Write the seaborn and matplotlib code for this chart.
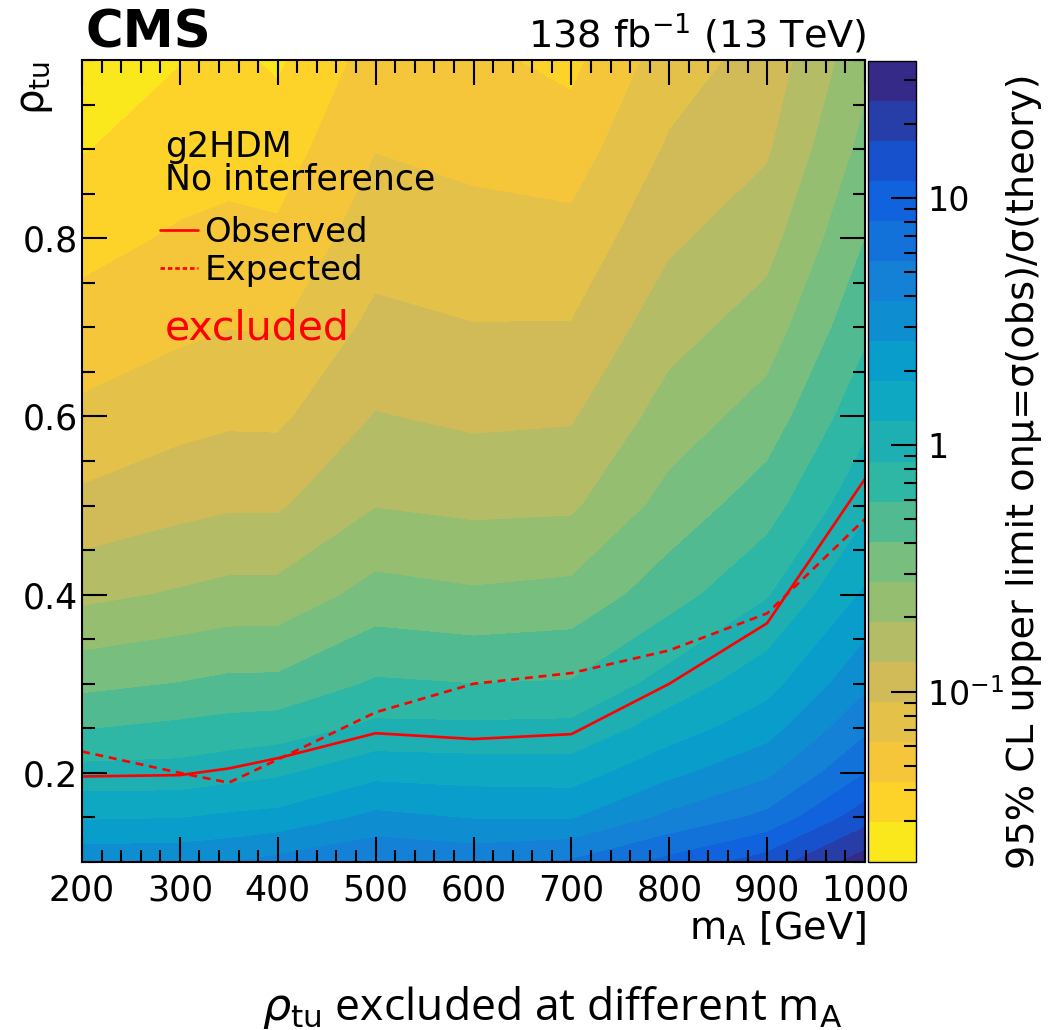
import numpy as np
import pandas as pd
import matplotlib
matplotlib.use("Agg")
import matplotlib.pyplot as plt
from matplotlib.ticker import FixedLocator, MultipleLocator
import seaborn as sns

# ---- scan grid: pseudoscalar mass [GeV] and coupling rho_tu ----
mass_points = [200, 300, 350, 400, 500, 600, 700, 800, 900, 1000]
rho_points = [0.10, 0.15, 0.20, 0.25, 0.30, 0.40, 0.50, 0.60, 0.70, 0.80, 0.90, 1.00]

# observed 95% CL upper limit on mu, one list per mass, ordered along rho_points
mu_m200 = [3.4, 1.73, 0.97, 0.577, 0.366, 0.174, 0.0996, 0.0675, 0.050, 0.038, 0.0290, 0.0233]
mu_m300 = [3.5, 1.78, 0.98, 0.64, 0.41, 0.20, 0.118, 0.080, 0.058, 0.045, 0.036, 0.0292]
mu_m350 = [3.7, 1.92, 1.07, 0.68, 0.44, 0.215, 0.126, 0.085, 0.062, 0.047, 0.038, 0.032]
mu_m400 = [4.3, 2.02, 1.17, 0.708, 0.443, 0.216, 0.126, 0.0843, 0.061, 0.046, 0.036, 0.0280]
mu_m500 = [5.5, 2.87, 1.61, 0.935, 0.618, 0.319, 0.189, 0.1345, 0.100, 0.0775, 0.0618, 0.0507]
mu_m600 = [5.0, 2.56, 1.54, 0.924, 0.589, 0.293, 0.176, 0.123, 0.0922, 0.0713, 0.0569, 0.0466]
mu_m700 = [5.8, 2.54, 1.51, 0.941, 0.606, 0.312, 0.180, 0.127, 0.0927, 0.0704, 0.0519, 0.039]
mu_m800 = [9.0, 4.13, 2.39, 1.49, 1.00, 0.499, 0.320, 0.225, 0.165, 0.123, 0.0953, 0.0758]
mu_m900 = [14.0, 6.08, 3.52, 2.25, 1.57, 0.827, 0.497, 0.328, 0.229, 0.167, 0.126, 0.105]
mu_m1000 = [30.0, 14.5, 7.97, 5.1, 3.5, 1.91, 1.14, 0.761, 0.542, 0.404, 0.312, 0.247]

# excluded rho_tu (mu = 1) versus mass
obs_mass = [200, 300, 350, 400, 500, 600, 700, 800, 900, 1000]
obs_rho = [0.196, 0.1975, 0.205, 0.2165, 0.2445, 0.238, 0.2435, 0.300, 0.368, 0.530]
exp_mass = [200, 300, 350, 400, 500, 600, 700, 800, 900, 1000]
exp_rho = [0.224, 0.200, 0.189, 0.215, 0.268, 0.300, 0.312, 0.3375, 0.379, 0.485]

# colour scale range of the limit map
z_min, z_max = 0.0204, 35.9
n_bands = 20

# ---- style ----
sns.set_theme(style="ticks")
plt.rcParams.update({
    "font.family": ["DejaVu Sans"],
    "mathtext.fontset": "dejavusans",
    "axes.edgecolor": "black",
    "axes.linewidth": 1.5,
    "axes.axisbelow": False,
    "xtick.color": "black",
    "ytick.color": "black",
    "text.color": "black",
    "axes.labelcolor": "black",
})

# ROOT "bird" palette, inverted (yellow = small mu, navy = large mu)
bird_stops = [0.0, 0.125, 0.25, 0.375, 0.5, 0.625, 0.75, 0.875, 1.0]
bird_r = [0.2082, 0.0592, 0.0780, 0.0232, 0.1802, 0.5301, 0.8186, 0.9956, 0.9764]
bird_g = [0.1664, 0.3599, 0.5041, 0.6419, 0.7178, 0.7492, 0.7328, 0.7862, 0.9832]
bird_b = [0.5293, 0.8684, 0.8385, 0.7914, 0.6425, 0.4662, 0.3499, 0.1968, 0.0539]


def bird(frac):
    return (np.interp(frac, bird_stops, bird_r),
            np.interp(frac, bird_stops, bird_g),
            np.interp(frac, bird_stops, bird_b))


band_colors = [bird(1.0 - int((k + 0.99) * 255 / n_bands) / 254.0) for k in range(n_bands)]
log_levels = np.linspace(np.log10(z_min), np.log10(z_max), n_bands + 1)

W, H = 1048, 1030
fig = plt.figure(figsize=(W / 100, H / 100), dpi=100)
ax = fig.add_axes([82 / W, 1 - 862 / H, 783 / W, 802 / H])
cax = fig.add_axes([868 / W, 1 - 862 / H, 48 / W, 801 / H])

# ---- limit map ----
mu_table = np.column_stack([mu_m200, mu_m300, mu_m350, mu_m400, mu_m500,
                            mu_m600, mu_m700, mu_m800, mu_m900, mu_m1000])
M, R = np.meshgrid(mass_points, rho_points)
cs = ax.contourf(M, R, np.log10(mu_table), levels=log_levels,
                 colors=band_colors, antialiased=False, zorder=0)

# ---- exclusion curves ----
limits = pd.DataFrame({
    "mA": obs_mass + exp_mass,
    "rho": obs_rho + exp_rho,
    "curve": ["Observed"] * len(obs_mass) + ["Expected"] * len(exp_mass),
})
sns.lineplot(data=limits, x="mA", y="rho", style="curve",
             style_order=["Observed", "Expected"],
             dashes={"Observed": "", "Expected": (3.0, 2.2)},
             color="red", linewidth=1.9, sort=False, estimator=None,
             ax=ax, legend=True)

handles, labels = ax.get_legend_handles_labels()
keep = [(h, l) for h, l in zip(handles, labels) if l in ("Observed", "Expected")]
leg = ax.legend([h for h, _ in keep], [l for _, l in keep],
                loc="upper left", bbox_to_anchor=(0.100, 0.806),
                frameon=False, fontsize=24.5, handlelength=1.1, handletextpad=0.2,
                labelspacing=0.15, borderpad=0.0, borderaxespad=0.0)
# the legend sample of the expected curve uses a finer dash
for line, text in zip(leg.get_lines(), leg.get_texts()):
    if text.get_text() == "Expected":
        line.set_dashes((1.7, 1.1))

ax.text(0.106, 0.879, "g2HDM", transform=ax.transAxes, fontsize=25, va="baseline")
ax.text(0.106, 0.838, "No interference", transform=ax.transAxes, fontsize=25, va="baseline")
ax.text(0.106, 0.651, "excluded", transform=ax.transAxes, fontsize=29.5,
        color="red", va="baseline")

# ---- axes ----
ax.set_xlim(200, 1000)
ax.set_ylim(0.1, 1.0)
ax.set_axisbelow(False)
ax.xaxis.set_major_locator(MultipleLocator(100))
ax.xaxis.set_minor_locator(MultipleLocator(20))
ax.yaxis.set_major_locator(FixedLocator([0.2, 0.4, 0.6, 0.8]))
ax.yaxis.set_minor_locator(MultipleLocator(0.05))
ax.set_xlabel("")
ax.set_ylabel("")
ax.tick_params(which="both", direction="in", top=True, right=True,
               labelsize=25, width=1.5, color="black")
ax.tick_params(axis="x", which="both", pad=8)
ax.tick_params(axis="y", which="both", pad=3)
ax.tick_params(which="major", length=18)
ax.tick_params(which="minor", length=9)
for sp in ax.spines.values():
    sp.set_linewidth(1.5)
    sp.set_color("black")
    sp.set_zorder(5)

# ---- colour bar ----
cb = fig.colorbar(cs, cax=cax)
cax.set_axisbelow(False)
cb.set_ticks([-1, 0, 1], labels=["$10^{-1}$", "1", "10"])
minor_vals = [v * d for d in (0.01, 0.1, 1.0, 10.0) for v in range(2, 10)]
minor_vals = [v for v in minor_vals if z_min < v < z_max]
cb.set_ticks(np.log10(minor_vals), minor=True)
cax.tick_params(which="both", direction="in", left=False, right=True,
                labelsize=24, pad=8, width=1.5, color="black")
cax.tick_params(which="major", length=18)
cax.tick_params(which="minor", length=9)
cb.outline.set_linewidth(1.0)
cb.outline.set_edgecolor("black")

# ---- labels around the frame ----
fig.text(85 / W, 1 - 48 / H, "CMS", fontsize=37, fontweight="bold", va="baseline")
fig.text(866 / W, 1 - 47 / H, "138 fb$^{-1}$ (13 TeV)", fontsize=27.5,
         ha="right", va="baseline")
fig.text(35 / W, 1 - 61 / H, r"ρ$_{\mathrm{tu}}$", fontsize=29, rotation=90,
         ha="center", va="top")
fig.text(866 / W, 1 - 940 / H, r"m$_{\mathrm{A}}$ [GeV]", fontsize=27.5,
         ha="right", va="baseline")
fig.text(1024 / W, 1 - 471 / H, "95% CL upper limit onμ=σ(obs)/σ(theory)",
         fontsize=27.5, rotation=90, ha="center", va="center")
fig.text(552 / W, 1 - 1020 / H,
         r"$\rho_{\mathrm{tu}}$ excluded at different m$_{\mathrm{A}}$",
         fontsize=32, family=["Open Sans", "DejaVu Sans"],
         ha="center", va="baseline")

fig.savefig("out.png", dpi=100)
